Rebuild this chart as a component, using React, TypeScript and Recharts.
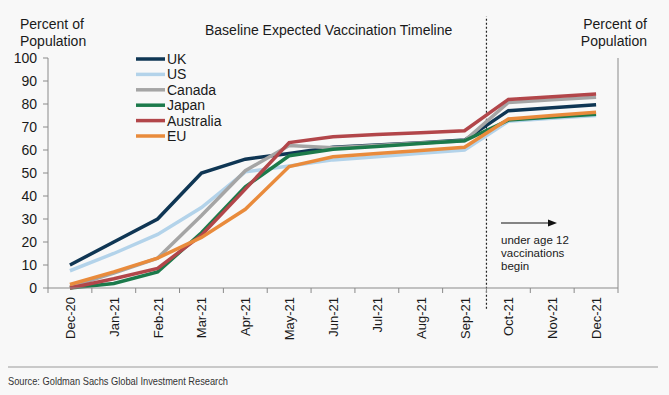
import { LineChart, Line, XAxis, YAxis, ReferenceLine } from "recharts";

const months = ["Dec-20", "Jan-21", "Feb-21", "Mar-21", "Apr-21", "May-21", "Jun-21", "Jul-21", "Aug-21", "Sep-21", "Oct-21", "Nov-21", "Dec-21"];
const uk = [10, 20, 30, 50, 56, 58.5, 61.2, 62.2, 63.2, 64.3, 77.1, 78.4, 79.7];
const us = [7.5, 15, 23.3, 35, 50.5, 53, 55.7, 57.1, 58.6, 60, 72.5, 73.8, 75];
const canada = [0.5, 6.5, 13, 31.5, 51, 62, 61, 62, 63, 64, 80.7, 81.8, 82.9];
const japan = [0, 2, 7, 24, 44, 57.5, 60.3, 61.5, 62.8, 64, 73, 74.3, 75.5];
const australia = [0, 4, 8.5, 23, 43, 63.2, 65.8, 66.7, 67.5, 68.4, 82, 83.2, 84.3];
const eu = [1.5, 7, 13, 22, 34.2, 52.8, 57.1, 58.5, 59.8, 61.2, 73.5, 75, 76.4];
const yTicks = [0, 10, 20, 30, 40, 50, 60, 70, 80, 90, 100];

const series = [
  { name: "UK", color: "#0f3654", values: uk },
  { name: "US", color: "#b3d3ea", values: us },
  { name: "Canada", color: "#a5a5a5", values: canada },
  { name: "Japan", color: "#1c7a4b", values: japan },
  { name: "Australia", color: "#b2464a", values: australia },
  { name: "EU", color: "#e98b3c", values: eu },
];

const data = months.map((m, i) => {
  const row: Record<string, any> = { month: m };
  series.forEach((s) => (row[s.name] = s.values[i]));
  return row;
});

const W = 669;
const H = 395;
const LEFT_W = 48;
const RIGHT_W = 51;
const BAND = (W - LEFT_W - RIGHT_W) / months.length;
const font = "'Liberation Sans', Arial, sans-serif";
const axisGray = "#8a8a8a";
const ink = "#1a1a1a";

function MonthTick({ x, y, payload, index }: any) {
  const half = BAND / 2;
  return (
    <g>
      <line x1={x - half} y1={y} x2={x - half} y2={y + 5} stroke={axisGray} />
      {index === months.length - 1 && (
        <line x1={x + half} y1={y} x2={x + half} y2={y + 5} stroke={axisGray} />
      )}
      <g transform={`translate(${x + 5},${y + 9}) rotate(-90)`}>
        <text x={0} y={0} textAnchor="end" fontSize={13} fill={ink} fontFamily={font}>
          {payload.value}
        </text>
      </g>
    </g>
  );
}

export default function App() {
  return (
    <div style={{ position: "absolute", left: 0, top: 0, width: W, height: H, background: "#f8f8f8", fontFamily: font }}>
      <LineChart width={W} height={H} data={data} margin={{ top: 58, right: 0, left: 0, bottom: 57 }} style={{ fontFamily: font }}>
        <XAxis
          dataKey="month"
          scale="band"
          height={50}
          interval={0}
          tickSize={0}
          tickMargin={0}
          tickLine={false}
          axisLine={{ stroke: axisGray }}
          tick={<MonthTick />}
        />
        <YAxis
          yAxisId="left"
          width={LEFT_W}
          domain={[0, 100]}
          ticks={yTicks}
          interval={0}
          tickSize={5}
          tickMargin={6}
          axisLine={{ stroke: axisGray }}
          tickLine={{ stroke: axisGray }}
          tick={{ fontSize: 14, fill: ink }}
        />
        <YAxis
          yAxisId="right"
          orientation="right"
          width={RIGHT_W}
          domain={[0, 100]}
          ticks={yTicks}
          interval={0}
          tickSize={5}
          tickMargin={9}
          axisLine={{ stroke: axisGray }}
          tickLine={{ stroke: axisGray }}
          tick={{ fontSize: 14, fill: ink, textAnchor: "start" }}
        />
        <ReferenceLine
          yAxisId="left"
          segment={[{ x: "Sep-21", y: -9 }, { x: "Sep-21", y: 118 }]}
          position="end"
          ifOverflow="visible"
          stroke="#222"
          strokeWidth={1.2}
          strokeDasharray="2 2"
        />
        {series.map((s) => (
          <Line
            key={s.name}
            yAxisId="left"
            type="linear"
            dataKey={s.name}
            stroke={s.color}
            strokeWidth={3.5}
            dot={false}
            isAnimationActive={false}
          />
        ))}
      </LineChart>

      <svg width={W} height={H} style={{ position: "absolute", left: 0, top: 0, pointerEvents: "none" }}>
        <g fontFamily={font} fill={ink}>
          <text x={20} y={29} fontSize={14}>Percent of</text>
          <text x={20} y={46} fontSize={14}>Population</text>
          <text x={647} y={29} fontSize={14} textAnchor="end">Percent of</text>
          <text x={647} y={46} fontSize={14} textAnchor="end">Population</text>
          <text x={205} y={35} fontSize={14}>Baseline Expected Vaccination Timeline</text>
        </g>
        {series.map((s, i) => {
          const cy = 59 + i * 15.4;
          return (
            <g key={s.name}>
              <line x1={136} y1={cy} x2={165} y2={cy} stroke={s.color} strokeWidth={3.5} />
              <text x={167} y={cy + 5} fontSize={14} fill={ink} fontFamily={font}>{s.name}</text>
            </g>
          );
        })}
        <line x1={501} y1={223} x2={549} y2={223} stroke="#111" strokeWidth={1} />
        <polygon points="557,223 548,219.5 548,226.5" fill="#111" />
        <g fontFamily={font} fill={ink} fontSize={11.5}>
          <text x={501} y={244}>under age 12</text>
          <text x={501} y={257}>vaccinations</text>
          <text x={501} y={270}>begin</text>
        </g>
        <line x1={8} y1={367} x2={658} y2={367} stroke="#9a9a9a" strokeWidth={1} />
        <text
          x={8}
          y={385}
          fontSize={11}
          fill="#333"
          fontFamily={font}
          textLength={220}
          lengthAdjust="spacingAndGlyphs"
        >
          Source: Goldman Sachs Global Investment Research
        </text>
      </svg>
    </div>
  );
}
